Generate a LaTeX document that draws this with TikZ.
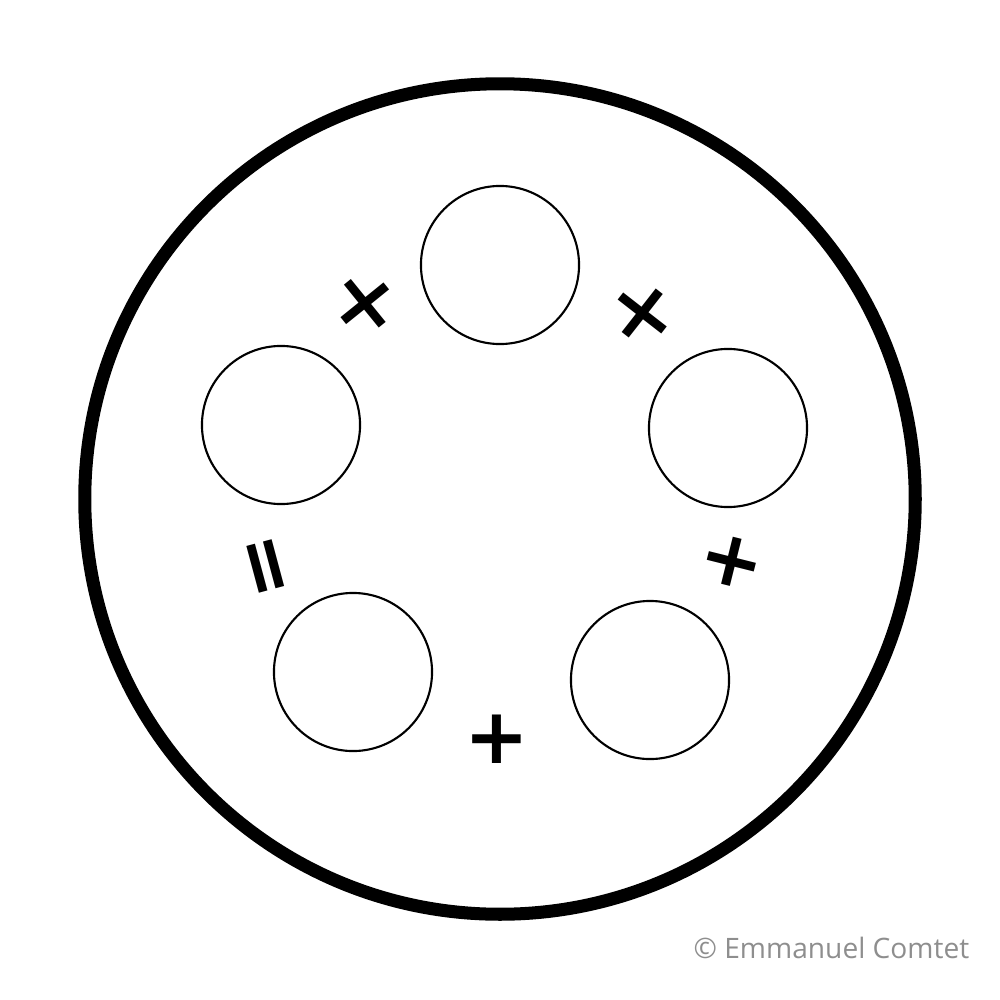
\documentclass[tikz,border=0pt]{standalone}
\usepackage{fontspec}
\setmainfont{Open Sans}
\newfontfamily\signfont{DejaVu Sans}
\usetikzlibrary{positioning}
\definecolor{creditgray}{HTML}{8E8E8E}
\tikzstyle{ring} = [circle, draw=black, line width=3.7pt, minimum size=8.3cm, inner sep=0pt]
\tikzstyle{disc} = [circle, draw=black, line width=0.6pt, minimum size=1.58cm, inner sep=0pt]
\tikzstyle{sign} = [inner sep=0pt, font=\signfont\bfseries\fontsize{22}{22}\selectfont]

\begin{document}
\begin{tikzpicture}[x=0.01cm, y=-0.01cm]
    \useasboundingbox (0,0) rectangle (1000,1000);
    % Outer ring
    \node[ring] (ring) at (500,499) {};

    % Discs
    \node[disc] (top) at (500,265) {};
    \node[disc] (right) at (728,428) {};
    \node[disc] (lowright) at (650,680) {};
    \node[disc] (lowleft) at (353,672) {};
    \node[disc] (left) at (281,425) {};

    % Signs between the discs
    \node[sign, rotate=-6] (timesA) at (365,305) {×};
    \node[sign, rotate=7] (timesB) at (643,314) {×};
    \node[sign, rotate=-14] (plusA) at (732,562) {+};
    \node[sign] (plusB) at (497,739) {+};
    \node[sign, rotate=105] (equals) at (271,565) {=};

    % Credit
    \node[anchor=base east, inner sep=0pt, text=creditgray, font=\fontsize{8}{10}\selectfont] (credit) at (970,958) {© Emmanuel Comtet};
\end{tikzpicture}
\end{document}
